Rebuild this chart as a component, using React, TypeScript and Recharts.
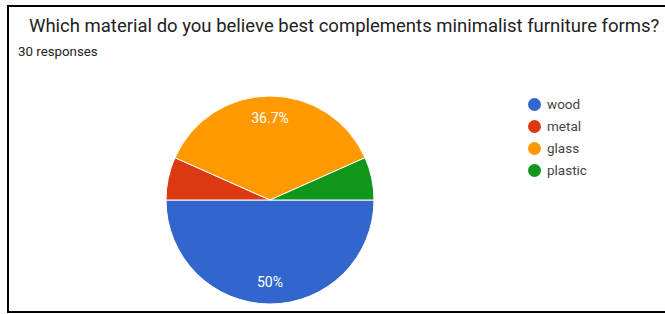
import React from 'react';
import { PieChart, Pie, Cell } from 'recharts';

const categories = ['wood', 'metal', 'glass', 'plastic'];
const counts = [15, 2, 11, 2];
const colors = ['#3366cc', '#dc3912', '#ff9900', '#109618'];
const title = 'Which material do you believe best complements minimalist furniture forms?';
const subtitle = '30 responses';

const data = categories.map((name, i) => ({ name, value: counts[i] }));
const RAD = Math.PI / 180;

const renderLabel = (props: any) => {
  const { cx, cy, midAngle, outerRadius, percent } = props;
  if (percent < 0.1) return null;
  const r = outerRadius * 0.785;
  const x = cx + r * Math.cos(-midAngle * RAD);
  const y = cy + r * Math.sin(-midAngle * RAD);
  const txt = `${Math.round(percent * 1000) / 10}%`;
  return (
    <text x={x} y={y} fill="#ffffff" textAnchor="middle" dominantBaseline="central"
      style={{ fontFamily: 'Roboto, Arial, sans-serif', fontSize: 14 }}>
      {txt}
    </text>
  );
};

export default function App() {
  return (
    <div style={{ position: 'fixed', left: 0, top: 0, width: 665, height: 314, background: '#fff', overflow: 'hidden', fontFamily: 'Roboto, Arial, sans-serif' }}>
      <div style={{ position: 'absolute', left: 7, top: 5, width: 700, height: 304, borderLeft: '2px solid #000', borderTop: '2px solid #000', borderBottom: '2px solid #000' }} />
      <div style={{ position: 'absolute', left: 29, top: 15, fontSize: 18.5, color: '#222222', whiteSpace: 'nowrap' }}>{title}</div>
      <div style={{ position: 'absolute', left: 18, top: 44, fontSize: 13.3, color: '#222222', whiteSpace: 'nowrap' }}>{subtitle}</div>
      <div style={{ position: 'absolute', left: 0, top: 0 }}>
        <PieChart width={665} height={314} margin={{ top: 0, right: 0, bottom: 0, left: 0 }}>
          <Pie data={data} dataKey="value" nameKey="name" cx={270} cy={200} outerRadius={104}
            startAngle={0} endAngle={-360} stroke="#ffffff" strokeWidth={1}
            label={renderLabel} labelLine={false} isAnimationActive={false}>
            {data.map((d, i) => <Cell key={d.name} fill={colors[i]} />)}
          </Pie>
        </PieChart>
      </div>
      <div style={{ position: 'absolute', left: 528, top: 93 }}>
        {data.map((d, i) => (
          <div key={d.name} style={{ display: 'flex', alignItems: 'center', height: 22 }}>
            <span style={{ width: 13, height: 13, borderRadius: '50%', background: colors[i], display: 'inline-block' }} />
            <span style={{ marginLeft: 6, fontSize: 13.5, color: '#444' }}>{d.name}</span>
          </div>
        ))}
      </div>
    </div>
  );
}
